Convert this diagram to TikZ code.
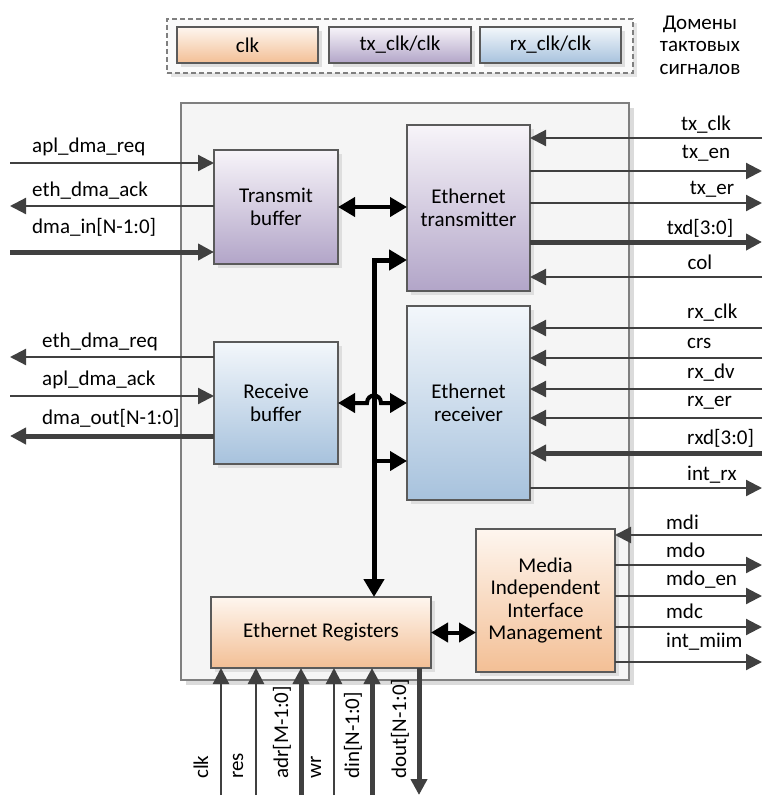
\documentclass[tikz,border=0pt]{standalone}
\usepackage{fontspec}
\setmainfont{Carlito}
\usetikzlibrary{arrows.meta,positioning,shadows,calc}

\definecolor{sigcol}{HTML}{404040}
\definecolor{edgecol}{HTML}{5A5A5A}
\definecolor{framecol}{HTML}{7F7F7F}
\definecolor{purpletop}{HTML}{F7F4F9}
\definecolor{purplebot}{HTML}{B2A5C8}
\definecolor{bluetop}{HTML}{F3F7FB}
\definecolor{bluebot}{HTML}{A7C2DD}
\definecolor{orangetop}{HTML}{FEF6EF}
\definecolor{orangebot}{HTML}{F3BF95}

\tikzset{
  txt/.style={font=\fontsize{21}{22.5}\selectfont},
  siglbl/.style={txt, inner sep=0pt},
  block/.style={txt, draw=edgecol, line width=1.2pt, align=center,
    inner sep=0pt, outer sep=0pt,
    drop shadow={shadow xshift=4pt, shadow yshift=-4pt, fill=black!13, opacity=1}},
  txdom/.style={block, top color=purpletop, bottom color=purplebot},
  rxdom/.style={block, top color=bluetop, bottom color=bluebot},
  clkdom/.style={block, top color=orangetop, bottom color=orangebot},
  chipbox/.style={draw=framecol, line width=1.5pt, fill=black!4, inner sep=0pt,
    drop shadow={shadow xshift=5pt, shadow yshift=-5pt, fill=black!14, opacity=1}},
  legframe/.style={draw=framecol, line width=1.2pt, dash pattern=on 5pt off 3pt,
    fill=black!2, inner sep=0pt,
    drop shadow={shadow xshift=4pt, shadow yshift=-4pt, fill=black!10, opacity=1}},
  % external wires
  wire/.style={draw=sigcol, line width=2.2pt},
  buswire/.style={draw=sigcol, line width=5pt},
  sigin/.style={-{Triangle[length=16pt,width=16pt]}},
  sigout/.style={{Triangle[length=16pt,width=16pt]}-},
  % internal black links
  link/.style={black, line width=4pt,
    {Triangle[length=17pt,width=19pt]}-{Triangle[length=17pt,width=19pt]}},
  linkto/.style={black, line width=4pt, -{Triangle[length=17pt,width=19pt]}},
  busln/.style={black, line width=5pt,
    {Triangle[length=18pt,width=20pt]}-{Triangle[length=18pt,width=20pt]}}
}

\begin{document}
\begin{tikzpicture}[x=1pt,y=-1pt]
    \useasboundingbox (0,0) rectangle (763,796);

    % clock domain legend
    \node[legframe, minimum width=466pt, minimum height=54pt] (legend) at (400,46) {};
    \node[clkdom, minimum width=141pt, minimum height=36pt] (lclk) at (247.5,45) {clk};
    \node[txdom, minimum width=142pt, minimum height=36pt, right=11pt of lclk] (ltx) {tx\_clk/clk};
    \node[rxdom, minimum width=141pt, minimum height=36pt, right=9pt of ltx] (lrx) {rx\_clk/clk};
    \node[txt, align=center] (domtxt) at (700,45) {Домены\\тактовых\\сигналов};

    % controller body
    \node[chipbox, minimum width=448pt, minimum height=577pt] (chip) at (405,391.5) {};

    % functional blocks
    \node[txdom, minimum width=124pt, minimum height=114pt] (txbuf) at (276,207) {Transmit\\buffer};
    \node[rxdom, minimum width=124pt, minimum height=122pt] (rxbuf) at (276,403) {Receive\\buffer};
    \node[txdom, minimum width=123pt, minimum height=166pt] (etx) at (468.5,208) {Ethernet\\transmitter};
    \node[rxdom, minimum width=123pt, minimum height=194pt] (erx) at (468.5,403) {Ethernet\\receiver};
    \node[clkdom, minimum width=220pt, minimum height=71pt] (regs) at (321,632.5) {Ethernet Registers};
    \node[clkdom, minimum width=139pt, minimum height=143pt] (miim) at (545.5,600.5)
        {Media\\Independent\\Interface\\Management};

    % host side of the buffers
    \foreach \y/\ly/\lbl/\dir/\w [count=\i] in {163/147/apl\_dma\_req/sigin/wire,
        206/191/eth\_dma\_ack/sigout/wire, 252/227/dma\_in[N-1:0]/sigin/buswire} {
        \coordinate (tl\i) at (10,\y);
        \draw[\w,\dir] (tl\i) -- (txbuf.west |- tl\i);
        \node[siglbl, anchor=west] (tlt\i) at (32,\ly) {\lbl};
    }
    \foreach \y/\ly/\lbl/\dir/\w [count=\i] in {357/342/eth\_dma\_req/sigout/wire,
        396/380/apl\_dma\_ack/sigin/wire, 436/418/dma\_out[N-1:0]/sigout/buswire} {
        \coordinate (rl\i) at (10,\y);
        \draw[\w,\dir] (rl\i) -- (rxbuf.west |- rl\i);
        \node[siglbl, anchor=west] (rlt\i) at (42,\ly) {\lbl};
    }

    % MII transmit side
    \foreach \y/\ly/\lx/\lbl/\dir/\w [count=\i] in {138/125/706/tx\_clk/sigin/wire,
        171/153/706/tx\_en/sigout/wire, 203/189/712/tx\_er/sigout/wire,
        242/228/700/txd[3:0]/sigout/buswire, 277/262/700/col/sigin/wire} {
        \coordinate (tr\i) at (762,\y);
        \draw[\w,\dir] (tr\i) -- (etx.east |- tr\i);
        \node[siglbl] (trt\i) at (\lx,\ly) {\lbl};
    }
    % MII receive side
    \foreach \y/\ly/\lbl/\dir/\w [count=\i] in {328/313/rx\_clk/sigin/wire,
        358/343/crs/sigin/wire, 389/373/rx\_dv/sigin/wire, 418/403/rx\_er/sigin/wire,
        453/438/rxd[3:0]/sigin/buswire, 488/475/int\_rx/sigout/wire} {
        \coordinate (rr\i) at (762,\y);
        \draw[\w,\dir] (rr\i) -- (erx.east |- rr\i);
        \node[siglbl, anchor=west] (rrt\i) at (687,\ly) {\lbl};
    }
    % management interface
    \foreach \y/\ly/\lbl/\dir/\w [count=\i] in {535/522/mdi/sigin/wire,
        565/550/mdo/sigout/wire, 596/580/mdo\_en/sigout/wire,
        627/611/mdc/sigout/wire, 662/642/int\_miim/sigout/wire} {
        \coordinate (mr\i) at (762,\y);
        \draw[\w,\dir] (mr\i) -- (miim.east |- mr\i);
        \node[siglbl, anchor=west] (mrt\i) at (666,\ly) {\lbl};
    }

    % register bus pins
    \foreach \x/\lbl/\dir/\w [count=\i] in {221/clk/sigin/wire, 256/res/sigin/wire,
        301/adr[M-1:0]/sigin/buswire, 334/wr/sigin/wire,
        372/din[N-1:0]/sigin/buswire, 419/dout[N-1:0]/sigout/buswire} {
        \coordinate (bp\i) at (\x,795);
        \draw[\w,\dir] (bp\i) -- (regs.south -| bp\i);
        \node[siglbl, rotate=90, anchor=base west] (bpt\i) at (\x-13,779) {\lbl};
    }

    % internal data paths
    \coordinate (bustop) at (374,260);
    \coordinate (busrx) at (374,461);
    \draw[busln] (regs.north -| bustop) -- (bustop) -- (etx.west |- bustop);
    \draw[linkto] (busrx) -- (erx.west |- busrx);
    \draw[link] (txbuf.east) -- (etx.west |- txbuf.east);
    \coordinate (cross) at (rxbuf.east -| bustop);
    \draw[link] (rxbuf.east) -- ($(cross)+(-7,0)$)
        .. controls ($(cross)+(-7,-10)$) and ($(cross)+(7,-10)$) .. ($(cross)+(7,0)$)
        -- (erx.west |- rxbuf.east);
    \draw[link] (regs.east) -- (miim.west |- regs.east);
\end{tikzpicture}
\end{document}
